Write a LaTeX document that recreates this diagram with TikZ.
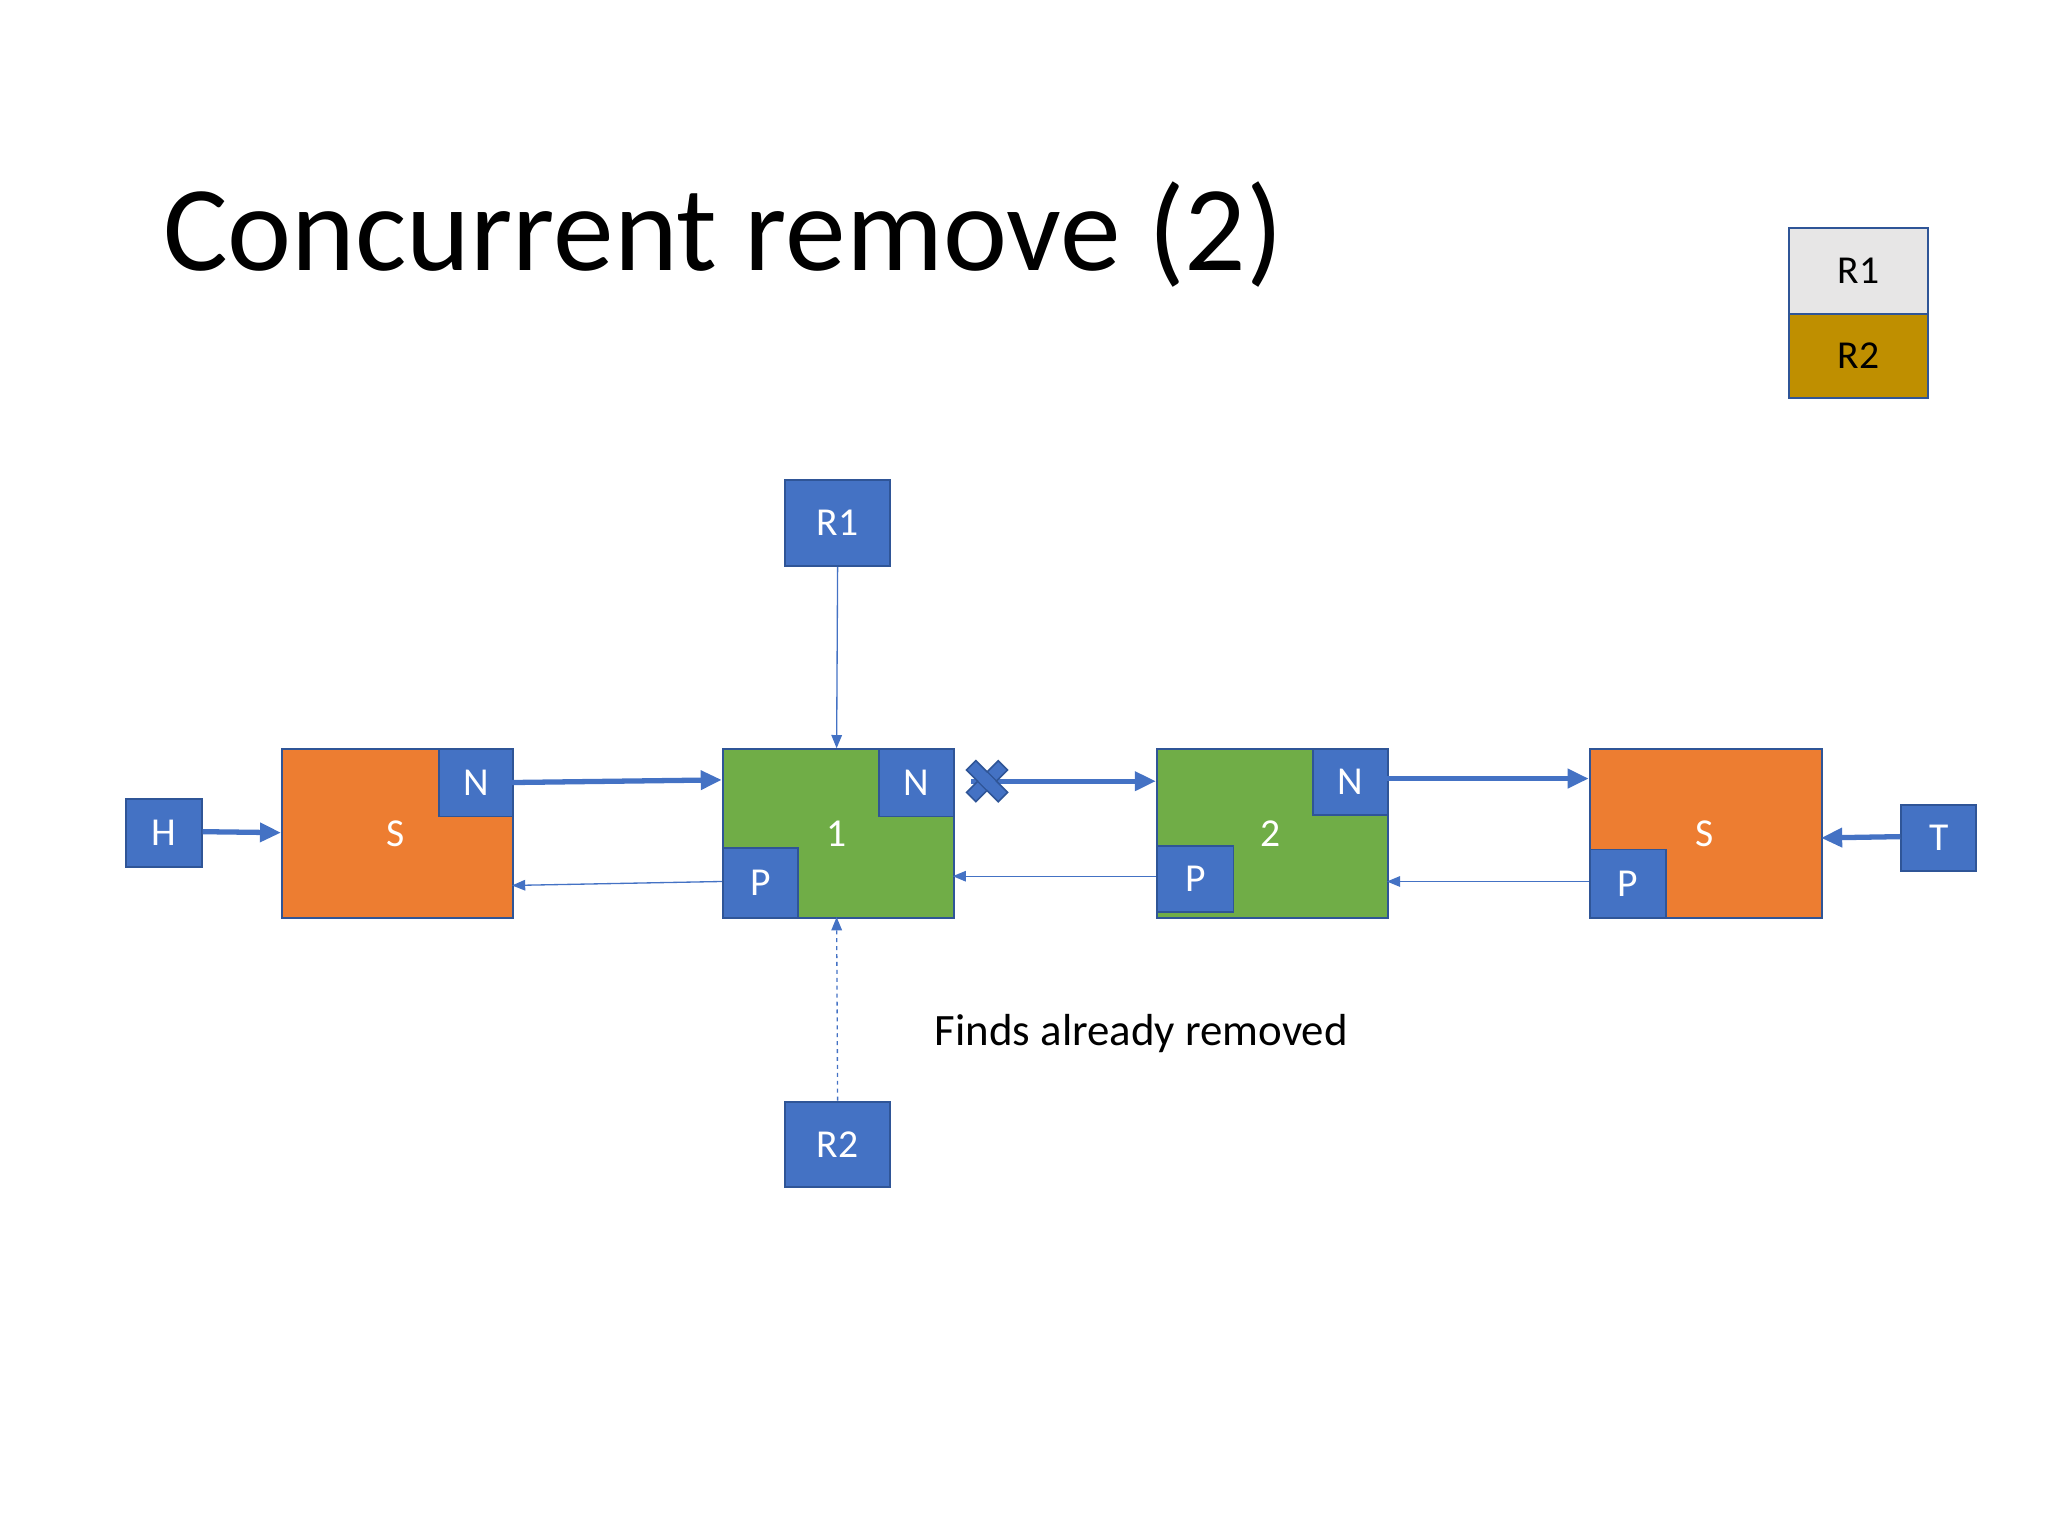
\documentclass[tikz,border=0pt]{standalone}
\usepackage{fontspec}
\setmainfont{Carlito}
\usetikzlibrary{arrows.meta}
\definecolor{bl}{HTML}{4472C4}
\definecolor{bd}{HTML}{2F5597}
\definecolor{og}{HTML}{ED7D31}
\definecolor{gr}{HTML}{70AD47}
\definecolor{gy}{HTML}{E7E6E6}
\definecolor{gd}{HTML}{BF8F00}
\begin{document}
\begin{tikzpicture}[x=1pt,y=-1pt,
  box/.style={draw=bd,line width=1.5pt,anchor=north west,inner sep=0pt,text=white,font=\fontsize{30}{30}\selectfont},
  thick/.style={draw=bl,line width=4pt,-{Triangle[length=16pt,width=14pt]}},
  thin/.style={draw=bl,line width=1pt,-{Triangle[length=10pt,width=8pt]}}]
\useasboundingbox (0,0) rectangle (1552,1164);
\node[anchor=base west,font=\fontsize{92}{92}\selectfont] (title) at (120,205) {Concurrent remove (2)};
\node[box,fill=gy,text=black,minimum width=105pt,minimum height=65pt] (L1) at (1355,172) {R1};
\node[box,fill=gd,text=black,minimum width=105pt,minimum height=64pt] (L2) at (1355,237) {R2};
\node[box,fill=bl,minimum width=80pt,minimum height=65pt] (R1) at (594,363) {R1};
\node[box,fill=bl,minimum width=80pt,minimum height=65pt] (R2) at (594,834) {R2};
\node[box,fill=bl,minimum width=57pt,minimum height=51pt] (H) at (95,605) {H};
\node[box,fill=bl,minimum width=57pt,minimum height=50pt] (T) at (1440,609) {T};
\node[box,fill=og,minimum width=175pt,minimum height=128pt] (S1) at (213,567) {};
\node[box,fill=gr,minimum width=175pt,minimum height=128pt] (A) at (547,567) {};
\node[box,fill=gr,minimum width=175pt,minimum height=128pt] (B) at (876,567) {};
\node[box,fill=og,minimum width=176pt,minimum height=128pt] (S2) at (1204,567) {};
\node[text=white,font=\fontsize{30}{30}\selectfont] (s1l) at (300,632) {S};
\node[text=white,font=\fontsize{30}{30}\selectfont] (al) at (634,632) {1};
\node[text=white,font=\fontsize{30}{30}\selectfont] (bl) at (963,632) {2};
\node[text=white,font=\fontsize{30}{30}\selectfont] (s2l) at (1292,632) {S};
\node[box,fill=bl,minimum width=56pt,minimum height=51pt] (S1N) at (332,567) {N};
\node[box,fill=bl,minimum width=57pt,minimum height=51pt] (AN) at (665,567) {N};
\node[box,fill=bl,minimum width=57pt,minimum height=53pt] (AP) at (547,642) {P};
\node[box,fill=bl,minimum width=57pt,minimum height=50pt] (BN) at (994,567) {N};
\node[box,fill=bl,minimum width=58pt,minimum height=50pt] (BP) at (876,640) {P};
\node[box,fill=bl,minimum width=58pt,minimum height=52pt] (S2P) at (1204,643) {P};
\coordinate (xs) at (736,592);
\draw[thick] (H.east) ++(0,-1) -- (213,631);
\draw[thick] (388,593) -- (547,591);
\draw[thick] (xs) -- (876,592);
\draw[thick] (1051,590) -- (1204,590);
\draw[thick] (1440,634) -- (1380,635);
\draw[thin] (547,668) -- (388,671);
\draw[thin] (876,664) -- (722,664);
\draw[thin] (1204,668) -- (1051,668);
\draw[thin] (R1.south) -- (634,567);
\draw[thin,dashed] (R2.north) -- (634,695);
\node[draw=bd,fill=bl,line width=1.2pt,inner sep=0pt,minimum size=0pt,
  shape=rectangle,rotate=45,minimum width=34pt,minimum height=10pt] (x1) at (748,592) {};
\node[draw=bd,fill=bl,line width=1.2pt,inner sep=0pt,rotate=-45,minimum width=34pt,minimum height=10pt] (x2) at (748,592) {};
\fill[bl,rotate around={45:(748,592)}] (743.5,587.5) rectangle (752.5,596.5);
\node[anchor=base west,font=\fontsize{34}{34}\selectfont] (note) at (705,792) {Finds already removed};
\end{tikzpicture}
\end{document}
